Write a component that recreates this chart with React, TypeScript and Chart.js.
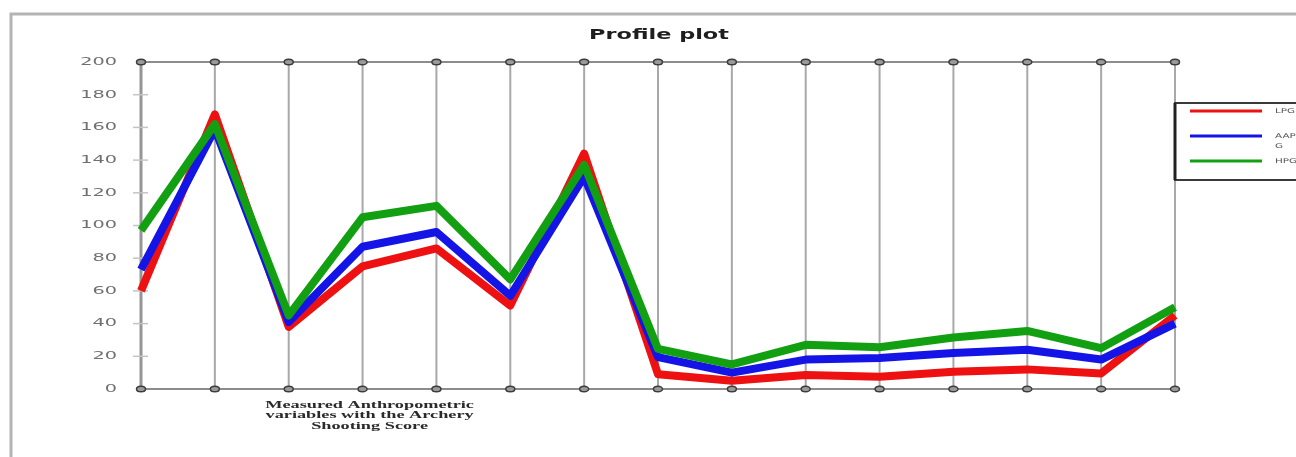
import React, { useEffect, useRef } from "react";
import { Chart, registerables } from "chart.js";

Chart.register(...registerables);

// Fifteen anthropometric variables along the x axis
const categories = [
  "V1", "V2", "V3", "V4", "V5", "V6", "V7", "V8",
  "V9", "V10", "V11", "V12", "V13", "V14", "V15",
];

const seriesNames = ["LPG", "AAPG", "HPG"];
const legendLines = [["LPG"], ["AAP", "G"], ["HPG"]];

const lpgValues = [60, 168, 38, 75, 86, 51, 144, 9, 5, 8.5, 7.5, 10.5, 12, 9.5, 45];
const aapgValues = [73, 159, 41, 87, 96, 57, 130, 19.5, 10, 18, 19, 22, 24, 18, 40];
const hpgValues = [97, 162, 45, 105, 112, 67, 137, 24.5, 15, 27, 25.5, 31.5, 35.5, 25, 50];

const yTicks = [0, 20, 40, 60, 80, 100, 120, 140, 160, 180, 200];

const chartTitle = "Profile plot";
const xAxisTitle = ["Measured Anthropometric", "variables with the Archery", "Shooting Score"];

const seriesColors = ["#ee1111", "#1414e6", "#12a012"];

function stretchedText(
  ctx: CanvasRenderingContext2D,
  text: string,
  x: number,
  y: number,
  font: string,
  color: string,
  align: CanvasTextAlign,
  sx: number
) {
  ctx.save();
  ctx.font = font;
  ctx.fillStyle = color;
  ctx.textAlign = align;
  ctx.textBaseline = "middle";
  ctx.translate(x, y);
  ctx.scale(sx, 1);
  ctx.fillText(text, 0, 0);
  ctx.restore();
}

const profileFrame = {
  id: "profileFrame",
  beforeDatasetsDraw(chart: any) {
    const { ctx, chartArea } = chart;
    const xs = chart.scales.x;
    const ys = chart.scales.y;
    const top = ys.getPixelForValue(200);
    const bottom = ys.getPixelForValue(0);
    ctx.save();
    // outer frame
    ctx.strokeStyle = "#b4b4b4";
    ctx.lineWidth = 3;
    ctx.strokeRect(11, 14, chart.width + 40, chart.height + 40);

    // vertical category lines
    categories.forEach((_, i) => {
      const x = xs.getPixelForValue(i);
      ctx.beginPath();
      ctx.strokeStyle = i === 0 ? "#959595" : "#a8a8a8";
      ctx.lineWidth = i === 0 ? 3 : 2;
      ctx.moveTo(x, top);
      ctx.lineTo(x, bottom);
      ctx.stroke();
    });
    // top and bottom lines
    ctx.strokeStyle = "#8c8c8c";
    ctx.lineWidth = 2;
    ctx.beginPath();
    ctx.moveTo(chartArea.left, top);
    ctx.lineTo(chartArea.right, top);
    ctx.moveTo(chartArea.left, bottom);
    ctx.lineTo(chartArea.right, bottom);
    ctx.stroke();

    // y tick marks crossing the axis
    ctx.strokeStyle = "#c4c4c4";
    ctx.lineWidth = 1.5;
    yTicks.forEach((v) => {
      if (v === 0 || v === 200) return;
      const y = ys.getPixelForValue(v);
      ctx.beginPath();
      ctx.moveTo(chartArea.left - 8, y);
      ctx.lineTo(chartArea.left + 7, y);
      ctx.stroke();
    });

    // y tick labels
    yTicks.forEach((v) => {
      const y = ys.getPixelForValue(v);
      stretchedText(ctx, String(v), chartArea.left - 24, y, "11px 'DejaVu Sans'", "#707070", "right", 1.75);
    });
    ctx.restore();
  },
  afterDatasetsDraw(chart: any) {
    const { ctx } = chart;
    const xs = chart.scales.x;
    const ys = chart.scales.y;
    const top = ys.getPixelForValue(200);
    const bottom = ys.getPixelForValue(0);
    ctx.save();
    // small ellipse markers at both ends of each category line
    categories.forEach((_, i) => {
      const x = xs.getPixelForValue(i);
      [top, bottom].forEach((y) => {
        ctx.beginPath();
        ctx.ellipse(x, y, 4.5, 2.8, 0, 0, Math.PI * 2);
        ctx.fillStyle = "#9a9a9a";
        ctx.fill();
        ctx.strokeStyle = "#3c3c3c";
        ctx.lineWidth = 1.5;
        ctx.stroke();
      });
    });
    ctx.restore();
  },
  afterDraw(chart: any) {
    const { ctx, chartArea } = chart;
    const xs = chart.scales.x;
    ctx.save();
    // title
    stretchedText(ctx, chartTitle, (chartArea.left + chartArea.right) / 2 + 1, 35, "bold 14px 'DejaVu Sans'", "#1e1e1e", "center", 1.6);

    // x axis title under the variables
    const cx = xs.getPixelForValue(3) + 7;
    xAxisTitle.forEach((line, i) => {
      stretchedText(ctx, line, cx, 405 + i * 10.5, "bold 11px 'Liberation Serif'", "#2a2a2a", "center", 1.66);
    });

    // legend box
    const lx = chartArea.right;
    const ly = 103;
    ctx.fillStyle = "#ffffff";
    ctx.fillRect(lx, ly, 200, 77);
    ctx.strokeStyle = "#3a3a3a";
    ctx.lineWidth = 2;
    ctx.strokeRect(lx, ly, 200, 77);
    ctx.beginPath();
    ctx.lineWidth = 3;
    ctx.strokeStyle = "#222222";
    ctx.moveTo(lx, ly);
    ctx.lineTo(lx, ly + 77);
    ctx.stroke();

    const rows = [111, 136, 161];
    seriesNames.forEach((_, i) => {
      ctx.beginPath();
      ctx.strokeStyle = seriesColors[i];
      ctx.lineWidth = 3;
      ctx.moveTo(lx + 15, rows[i]);
      ctx.lineTo(lx + 87, rows[i]);
      ctx.stroke();
      legendLines[i].forEach((t, k) => {
        stretchedText(ctx, t, lx + 100, rows[i] + k * 10, "6.5px 'DejaVu Sans'", "#555555", "left", 1.6);
      });
    });
    ctx.restore();
  },
};

export default function App() {
  const canvasRef = useRef<HTMLCanvasElement | null>(null);

  useEffect(() => {
    document.body.style.margin = "0";
    const canvas = canvasRef.current;
    if (!canvas) return;
    const chart = new Chart(canvas, {
      type: "line",
      data: {
        labels: categories,
        datasets: [
          { label: seriesNames[0], data: lpgValues, borderColor: seriesColors[0], order: 2 },
          { label: seriesNames[1], data: aapgValues, borderColor: seriesColors[1], order: 1 },
          { label: seriesNames[2], data: hpgValues, borderColor: seriesColors[2], order: 0 },
        ].map((d) => ({
          ...d,
          borderWidth: 8,
          pointRadius: 0,
          tension: 0,
          fill: false,
          borderJoinStyle: "round" as const,
          borderCapStyle: "butt" as const,
          clip: false as any,
        })),
      },
      options: {
        animation: false,
        responsive: true,
        maintainAspectRatio: false,
        layout: { padding: { left: 141, right: 121, top: 62, bottom: 68 } },
        plugins: {
          legend: { display: false },
          title: { display: false },
          tooltip: { enabled: false },
        },
        scales: {
          x: { type: "category", display: false, offset: false },
          y: { display: false, min: 0, max: 200, ticks: { stepSize: 20 } },
        },
      },
      plugins: [profileFrame],
    });
    return () => chart.destroy();
  }, []);

  return (
    <div style={{ position: "fixed", left: 0, top: 0, width: 1296, height: 457, background: "#ffffff" }}>
      <canvas ref={canvasRef} />
    </div>
  );
}
